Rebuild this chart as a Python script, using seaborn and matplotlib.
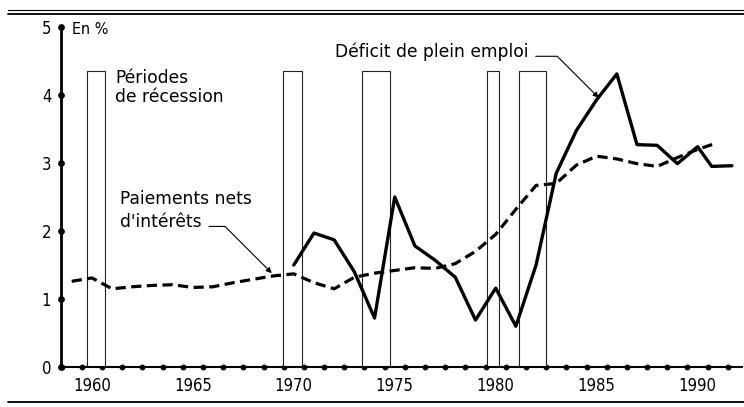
import numpy as np
import pandas as pd
import matplotlib.pyplot as plt
import matplotlib.ticker as mticker
from matplotlib.lines import Line2D
from matplotlib import font_manager
import seaborn as sns

# Données (en % du PIB)
annees_deficit = [1970, 1971, 1972, 1973, 1974, 1975, 1976, 1977, 1978, 1979, 1980,
                  1981, 1982, 1983, 1984, 1985, 1986, 1987, 1988, 1989, 1990, 1990.7, 1991.7]
deficit = [1.50, 1.97, 1.87, 1.40, 0.72, 2.50, 1.78, 1.57, 1.32, 0.69, 1.16,
           0.60, 1.50, 2.85, 3.48, 3.93, 4.31, 3.27, 3.26, 2.99, 3.24, 2.95, 2.96]

annees_interets = [1959, 1960, 1961, 1962, 1963, 1964, 1965, 1966, 1967, 1968, 1969,
                   1970, 1971, 1972, 1973, 1974, 1975, 1976, 1977, 1978, 1979, 1980,
                   1981, 1982, 1983, 1984, 1985, 1986, 1987, 1988, 1989, 1990, 1990.8]
interets = [1.26, 1.31, 1.15, 1.18, 1.20, 1.21, 1.17, 1.18, 1.24, 1.29, 1.34,
            1.37, 1.24, 1.15, 1.32, 1.38, 1.42, 1.46, 1.45, 1.52, 1.70, 1.95,
            2.32, 2.67, 2.70, 2.97, 3.10, 3.06, 2.99, 2.95, 3.08, 3.20, 3.28]

# Périodes de récession (début, fin)
recession_debut = [1959.75, 1969.45, 1973.4, 1979.55, 1981.15]
recession_fin = [1960.65, 1970.4, 1974.75, 1980.15, 1982.5]
recession_haut = 4.35

annees_ticks = [1960, 1965, 1970, 1975, 1980, 1985, 1990]
valeurs_ticks = [0, 1, 2, 3, 4, 5]

sns.set_theme(style='white')
plt.rcParams['font.family'] = ['DejaVu Sans']
plt.rcParams['text.color'] = 'black'

# police étroite pour les graduations
noms = {f.name for f in font_manager.fontManager.ttflist}
chemin = font_manager.findfont(font_manager.FontProperties(family='DejaVu Sans', stretch='condensed'))
if 'Condensed' in chemin:
    etroite = dict(family='DejaVu Sans', fontstretch='condensed')
elif 'Liberation Sans Narrow' in noms:
    etroite = dict(family='Liberation Sans Narrow')
else:
    etroite = dict(family='Liberation Sans')

df_def = pd.DataFrame({'annee': annees_deficit, 'valeur': deficit})
df_int = pd.DataFrame({'annee': annees_interets, 'valeur': interets})

fig = plt.figure(figsize=(7.44, 4.07), dpi=100)
ax = fig.add_axes([61 / 744, 40 / 407, 681 / 744, 340 / 407])

# Barres de récession (contours seulement)
largeurs = [f - d for d, f in zip(recession_debut, recession_fin)]
ax.bar(recession_debut, [recession_haut] * len(recession_debut), width=largeurs,
       align='edge', facecolor='white', edgecolor='#222222', linewidth=0.8, zorder=1)

sns.lineplot(data=df_int, x='annee', y='valeur', ax=ax, color='black',
             linewidth=2.3, zorder=3)
ax.lines[-1].set_dashes((3.2, 1.7))
sns.lineplot(data=df_def, x='annee', y='valeur', ax=ax, color='black',
             linewidth=2.4, zorder=4)

ax.set_xlim(1958.47, 1992.2)
ax.set_ylim(0, 5)
ax.set_xlabel('')
ax.set_ylabel('')

for cote in ['top', 'right']:
    ax.spines[cote].set_visible(False)
ax.spines['left'].set_linewidth(2.0)
ax.spines['bottom'].set_linewidth(1.5)
ax.spines['left'].set_color('black')
ax.spines['bottom'].set_color('black')

ax.xaxis.set_major_locator(mticker.FixedLocator(annees_ticks))
ax.xaxis.set_minor_locator(mticker.FixedLocator(np.arange(1958.5, 1992, 1)))
ax.yaxis.set_major_locator(mticker.FixedLocator(valeurs_ticks))
ax.set_xticklabels([str(a) for a in annees_ticks], fontsize=12, **etroite)
ax.set_yticklabels([str(v) for v in valeurs_ticks], fontsize=12, **etroite)

ax.tick_params(axis='x', which='major', length=0, pad=7, colors='black')
ax.tick_params(axis='x', which='minor', length=3.2, direction='in', colors='black', bottom=True)
ax.tick_params(axis='y', which='major', length=3.6, direction='in', pad=7, colors='black', left=True)

for t in ax.xaxis.get_minor_ticks():
    t.tick1line.set_marker('o')
    t.tick1line.set_clip_on(False)
for t in ax.yaxis.get_major_ticks():
    t.tick1line.set_marker('o')
    t.tick1line.set_clip_on(False)

# Textes et flèches
taille = 12.3
ax.text(1959.02, 4.96, 'En %', fontsize=11.5, va='center', ha='left', color='black', **etroite)
ax.text(1961.14, 4.18, 'Périodes', fontsize=taille, va='baseline', ha='left', color='black')
ax.text(1961.14, 3.90, 'de récession', fontsize=taille, va='baseline', ha='left', color='black')
ax.text(1961.39, 2.40, 'Paiements nets', fontsize=taille, va='baseline', ha='left', color='black')

fleche = dict(arrowstyle='-|>', color='black', lw=0.8, mutation_scale=8,
              shrinkA=3, shrinkB=0, relpos=(1, 0.25))
ax.annotate('Déficit de plein emploi', xy=(1985.1, 3.96), xytext=(1972.03, 4.56),
            fontsize=taille, va='baseline', ha='left', color='black',
            arrowprops=dict(fleche, connectionstyle='angle,angleA=0,angleB=135,rad=0'))
ax.annotate("d'intérêts", xy=(1968.91, 1.38), xytext=(1961.39, 2.06),
            fontsize=taille, va='baseline', ha='left', color='black',
            arrowprops=dict(fleche, connectionstyle='angle,angleA=0,angleB=135,rad=0'))

# Filets du haut et du bas
for y, lw in [(1 - 10 / 407, 0.8), (1 - 14 / 407, 1.3), (1 - 402 / 407, 1.3)]:
    fig.add_artist(Line2D([8 / 744, 1.0], [y, y], transform=fig.transFigure,
                          color='black', linewidth=lw))

plt.savefig('out.png', dpi=100)
